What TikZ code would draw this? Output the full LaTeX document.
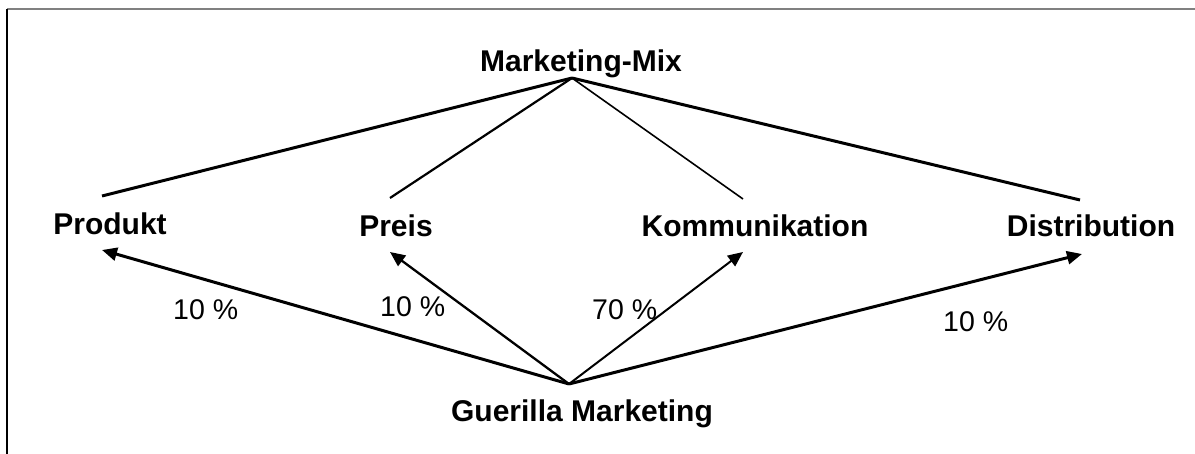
\documentclass[tikz,border=0pt]{standalone}
\usepackage{fontspec}
\setmainfont{Liberation Sans}
\usetikzlibrary{arrows.meta}
\begin{document}
\begin{tikzpicture}[x=1pt,y=-1pt,
  title/.style={font=\fontsize{30}{36}\selectfont\bfseries, anchor=base, inner sep=0pt},
  pct/.style={font=\fontsize{28.5}{34}\selectfont, anchor=base west, inner sep=0pt},
  arr/.style={-{Triangle[length=15pt,width=13pt]}},
]
\useasboundingbox (0,0) rectangle (1195,454);
% frame
\draw[line width=2pt, color={rgb,255:red,128;green,128;blue,128}] (7,9.5) -- (1195,9.5);
\draw[line width=1.5pt, black] (7,9.5) -- (7,454);

% titles
\node[title] (mm) at (581,72) {Marketing-Mix};
\node[title] (prod) at (110,235) {Produkt};
\node[title] (preis) at (396,237) {Preis};
\node[title] (komm) at (755,237) {Kommunikation};
\node[title] (dist) at (1091,237) {Distribution};
\node[title] (gm) at (582,421) {Guerilla Marketing};

% percent labels
\node[pct] (l1) at (173,320) {10 \%};
\node[pct] (l2) at (380,317) {10 \%};
\node[pct] (l3) at (592,320) {70 \%};
\node[pct] (l4) at (943,332) {10 \%};

% connector points
\coordinate (mmTop) at (572,78);
\coordinate (gmTop) at (569,384);
\coordinate (pTop) at (102,196);
\coordinate (prTop) at (390,198);
\coordinate (kTop) at (743,199);
\coordinate (dTop) at (1080,200);
\coordinate (pTip) at (102,250);
\coordinate (prTip) at (390,252);
\coordinate (kTip) at (743,252);
\coordinate (dTip) at (1082,254);

% upper lines
\draw[line width=3pt] (mmTop) -- (pTop);
\draw[line width=2.2pt] (mmTop) -- (prTop);
\draw[line width=1.6pt] (mmTop) -- (kTop);
\draw[line width=3pt] (mmTop) -- (dTop);

% arrows
\draw[arr, line width=3pt] (gmTop) -- (pTip);
\draw[arr, line width=2.3pt] (gmTop) -- (prTip);
\draw[arr, line width=2pt] (gmTop) -- (kTip);
\draw[arr, line width=3pt] (gmTop) -- (dTip);
\end{tikzpicture}
\end{document}
